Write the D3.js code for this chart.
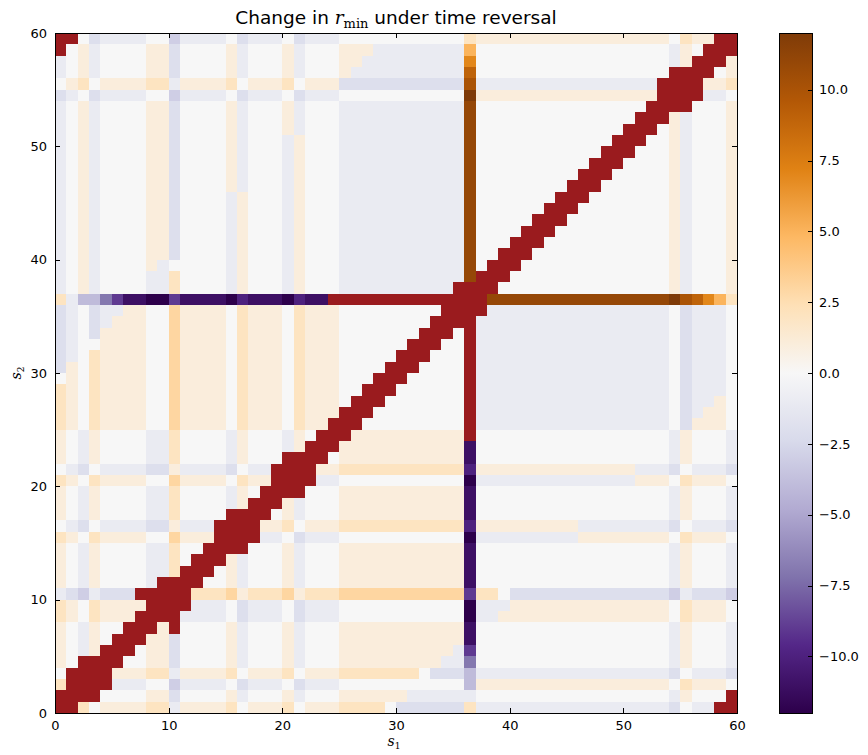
<!DOCTYPE html>
<html><head><meta charset="utf-8">
<script src="https://cdn.jsdelivr.net/npm/d3@7"></script>
<style>body{margin:0;background:#fff;} svg{display:block;}</style>
</head><body><svg id="chart" width="868" height="755"></svg>
<script>
// ---------- data ----------
// axis ticks
const s1Ticks = [0, 10, 20, 30, 40, 50, 60];
const s2Ticks = [0, 10, 20, 30, 40, 50, 60];
const cbarTicks = [-10, -7.5, -5, -2.5, 0, 2.5, 5, 7.5, 10];
const cbarRange = [-12, 12];
// value codes: '.'=0, '1'..'9'=+1..+9, x=+10, y=+11, z=+12, a..l = -1..-12, R = undefined (dark red)
const codeValues = {".":0,"1":1,"2":2,"3":3,"4":4,"5":5,"6":6,"7":7,"8":8,"9":9,"x":10,"y":11,"z":12,
  "a":-1,"b":-2,"c":-3,"d":-4,"e":-5,"f":-6,"g":-7,"h":-8,"i":-9,"j":-10,"k":-11,"l":-12,"R":null};
// matrix (symmetric in s1 <-> s2): row s2 = j lists the values for s1 = 0..j
const rowsBySecond = [
"R",
"RR",
"2RR",
".RRR",
"1.RRR",
"1.a1RR",
"1.a1.RR",
"1.a1..RR",
"21.2111RR",
"21.21111RR",
"abcabbbRRRR",
"1.a1....aRRR",
"1.a1....aa2RR",
"1.a1....aa2.RR",
"1.a1....aa2..RR",
"21.21111..3111RR",
".ab.aaaabb1aaaRRR",
"1.a1....aa2....RRR",
"1.a1....aa2....a1RR",
"1.a1....aa2....a1.RR",
"21.21111..31111.211RR",
".ab.aaaabb1aaaab.aaRRR",
"1.a1....aa2....a1...RRR",
"1.a1....aa2....a1...a1RR",
"1.a1....aa2....a1...a1.RR",
"21.21111..31111.2111.211RR",
"21.21111..31111.2111.2111RR",
"21.21111..31111.2111.2111.RR",
"21.21111..31111.2111.2111..RR",
".1.21111..31111.2111.2111...RR",
"b1.21111..31111.2111.2111....RR",
"ba.21111..31111.2111.2111.....RR",
"ba..1111..31111.2111.2111......RR",
"ba.b1111..31111.2111.2111.......RR",
"ba.ba111..31111.2111.2111........RR",
"ba.baa11..31111.2111.2111.........RR",
"2addgikkllikkkkljkkkljkkRRRRRRRRRRRRR",
"a.1a....aa2....a1...a1...aaaaaaaaaaRRR",
"a.1a....aa2....a1...a1...aaaaaaaaaaayRR",
"a.1a....1a.....a1...a1...aaaaaaaaaaay.RR",
"a.1a....11b....a1...a1...aaaaaaaaaaay..RR",
"a.1a....11b....a1...a1...aaaaaaaaaaay...RR",
"a.1a....11b....a1...a1...aaaaaaaaaaay....RR",
"a.1a....11b....a1...a1...aaaaaaaaaaay.....RR",
"a.1a....11b....a1...a1...aaaaaaaaaaay......RR",
"a.1a....11b....a1...a1...aaaaaaaaaaay.......RR",
"a.1a....11b....1a...a1...aaaaaaaaaaay........RR",
"a.1a....11b....1a...a1...aaaaaaaaaaay.........RR",
"a.1a....11b....1a...a1...aaaaaaaaaaay..........RR",
"a.1a....11b....1a...a1...aaaaaaaaaaay...........RR",
"a.1a....11b....1a...a1...aaaaaaaaaaay............RR",
"a.1a....11b....1a...1a...aaaaaaaaaaay.............RR",
"a.1a....11b....1a...1a...aaaaaaaaaaay..............RR",
"a.1a....11b....1a...1a...aaaaaaaaaaay...............RR",
"ba.baaaa..caaaa.baaa.baaa...........z1111111111111111RR",
".12.111122a11112.1112.111bbbbbbbbbbbxaaaaaaaaaaaaaaaaRRR",
"a.1a....11b....1a...1a...1aaaaaaaaaa9.................RRR",
"a.1a....11b....1a...1a...11aaaaaaaaa7.................a1RR",
"R.1a....11b....1a...1a...111aaaaaaaa5.................a1.RR",
"RR.baaaa..caaaa.baaa.baaa...........211111111111111111.211RR"
];
const puorR = ["#2d004b","#542788","#8073ac","#b2abd2","#d8daeb","#f7f7f7","#fee0b6","#fdb863","#e08214","#b35806","#7f3b08"];
const badColor = "#9a1b1e";

// ---------- build cells ----------
const N = 60;
const cells = [];
for (let j = 0; j < N; j++) {
  for (let i = 0; i < N; i++) {
    const code = i <= j ? rowsBySecond[j][i] : rowsBySecond[i][j];
    cells.push({s1: i, s2: j, v: codeValues[code]});
  }
}

// ---------- drawing ----------
const svg = d3.select("#chart");
const L = 55, R = 737, T = 33, B = 713;
const x = d3.scaleLinear().domain([0, 60]).range([L, R]);
const y = d3.scaleLinear().domain([0, 60]).range([B, T]);
const color = d3.scaleLinear()
  .domain(d3.range(puorR.length).map(k => cbarRange[0] + k * (cbarRange[1] - cbarRange[0]) / (puorR.length - 1)))
  .range(puorR).interpolate(d3.interpolateRgb).clamp(true);

svg.append("g").attr("shape-rendering", "crispEdges")
  .selectAll("rect").data(cells).join("rect")
  .attr("x", d => x(d.s1))
  .attr("y", d => y(d.s2 + 1))
  .attr("width", d => x(d.s1 + 1) - x(d.s1))
  .attr("height", d => y(d.s2) - y(d.s2 + 1))
  .attr("fill", d => d.v === null || d.v === undefined ? badColor : color(d.v));

svg.append("rect").attr("x", L).attr("y", T).attr("width", R - L).attr("height", B - T)
  .attr("fill", "none").attr("stroke", "#000").attr("stroke-width", 1).attr("shape-rendering", "crispEdges");

const tickFont = g => g.selectAll("text").attr("font-family", "DejaVu Sans, sans-serif").attr("font-size", 13).attr("fill", "#000");
const tickLines = g => { g.select(".domain").remove(); g.selectAll("line").attr("stroke", "#000").attr("shape-rendering", "crispEdges"); };

svg.append("g").attr("transform", `translate(0,${B})`)
  .call(d3.axisBottom(x).tickValues(s1Ticks).tickSizeInner(-5).tickSizeOuter(0).tickPadding(8).tickFormat(d3.format("d")))
  .call(tickLines).call(tickFont);
svg.append("g").attr("transform", `translate(0,${T})`)
  .call(d3.axisTop(x).tickValues(s1Ticks).tickSizeInner(-5).tickSizeOuter(0).tickFormat(""))
  .call(tickLines);
svg.append("g").attr("transform", `translate(${L},0)`)
  .call(d3.axisLeft(y).tickValues(s2Ticks).tickSizeInner(-5).tickSizeOuter(0).tickPadding(8).tickFormat(d3.format("d")))
  .call(tickLines).call(tickFont);
svg.append("g").attr("transform", `translate(${R},0)`)
  .call(d3.axisRight(y).tickValues(s2Ticks).tickSizeInner(-5).tickSizeOuter(0).tickFormat(""))
  .call(tickLines);

// colorbar
const CL = 779, CW = 33;
const cb = d3.scaleLinear().domain(cbarRange).range([B, T]);
const defs = svg.append("defs");
const grad = defs.append("linearGradient").attr("id", "cbgrad")
  .attr("x1", 0).attr("y1", 1).attr("x2", 0).attr("y2", 0);
grad.selectAll("stop").data(puorR).join("stop")
  .attr("offset", (d, k) => k / (puorR.length - 1)).attr("stop-color", d => d);
svg.append("rect").attr("x", CL).attr("y", T).attr("width", CW).attr("height", B - T)
  .attr("fill", "url(#cbgrad)").attr("stroke", "#000").attr("stroke-width", 1).attr("shape-rendering", "crispEdges");
svg.append("g").attr("transform", `translate(${CL + CW},0)`)
  .call(d3.axisRight(cb).tickValues(cbarTicks).tickSizeInner(-4).tickSizeOuter(0).tickPadding(7).tickFormat(d3.format(".1f")))
  .call(tickLines).call(tickFont);

// title
const title = svg.append("text").attr("x", (L + R) / 2).attr("y", 24).attr("text-anchor", "middle")
  .attr("font-family", "DejaVu Sans, sans-serif").attr("font-size", 18.5).attr("fill", "#000");
title.append("tspan").text("Change in ");
title.append("tspan").attr("font-family", "DejaVu Serif, serif").attr("font-style", "italic").text("r");
title.append("tspan").attr("font-family", "DejaVu Serif, serif").attr("font-size", 13).attr("dy", 4).text("min");
title.append("tspan").attr("dy", -4).text(" under time reversal");

// axis labels
const xl = svg.append("text").attr("x", (L + R) / 2 - 2).attr("y", 746).attr("text-anchor", "middle")
  .attr("font-family", "DejaVu Serif, serif").attr("font-size", 14).attr("fill", "#000");
xl.append("tspan").attr("font-style", "italic").text("s");
xl.append("tspan").attr("font-size", 9).attr("dy", 3).text("1");

const yl = svg.append("text").attr("transform", `translate(21,${(T + B) / 2}) rotate(-90)`).attr("text-anchor", "middle")
  .attr("font-family", "DejaVu Serif, serif").attr("font-size", 14).attr("fill", "#000");
yl.append("tspan").attr("font-style", "italic").text("s");
yl.append("tspan").attr("font-size", 9).attr("dy", 3).text("2");
</script>
</body></html>
